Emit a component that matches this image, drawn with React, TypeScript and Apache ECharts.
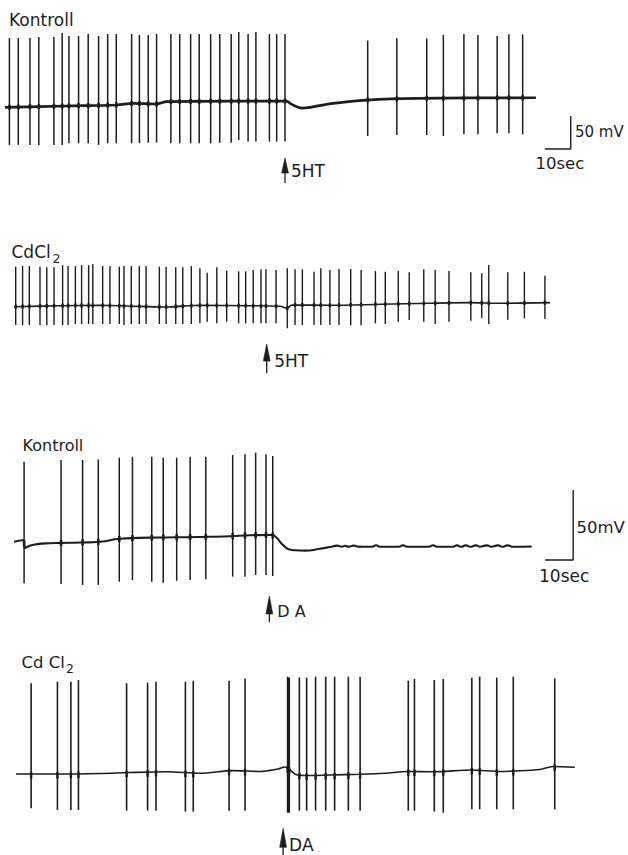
import React, { useEffect, useRef } from "react";
import * as echarts from "echarts";

const INK = "#1d1d1d";
const FONT = '"DejaVu Sans", "Liberation Sans", sans-serif';

// ---------- Trace 1: Kontroll, 5HT (time in s, potential in mV rel. to start) ----------
const kontroll5htSpikeTimes = [
  1.7, 5.1, 9.6, 13.0, 18.8, 22.0, 24.6, 28.3, 32.0, 36.0, 39.5, 42.8, 48.7, 51.7, 55.1,
  58.3, 63.8, 67.2, 71.4, 74.7, 79.1, 82.6, 87.0, 89.9, 93.5, 96.5, 101.7, 104.5, 107.7,
  139.5, 150.7, 162.2, 168.6, 176.5, 181.9, 189.3, 193.8, 199.1,
];
const kontroll5htSpikePeaks = [
  105, 105, 105, 106.5, 106.5, 112.6, 108, 108, 111, 108, 111, 111, 111, 109.5, 109.5,
  111, 111, 111, 111, 111, 111, 111, 111, 114, 111, 114, 111, 111, 111,
  101, 104.5, 104.5, 109.5, 111, 109.5, 108, 110.5, 110.5,
];
const kontroll5htSpikeTroughs = [
  -57, -57, -57, -57, -57, -57, -54.5, -54.5, -54.5, -57, -54.5, -54.5, -54.5, -54.5, -53.6,
  -53.6, -54.5, -54.5, -54.5, -54.5, -54.5, -53.6, -53.6, -49.5, -52, -52, -52, -52, -52,
  -43.5, -42, -42, -43.5, -41, -41, -39.5, -39.5, -41,
];
const kontroll5htBaseTimes = [0, 23.7, 43.0, 49.2, 58.3, 62.2, 87.7, 108.3, 109.6, 112.2, 114.5, 117.3, 126.2, 139.2, 158.5, 204.2];
const kontroll5htBaseValues = [0, 2, 3.5, 6, 5, 8.5, 9.5, 9.5, 6, 1, -1.2, 0, 6, 11, 13.6, 14.5];

// ---------- Trace 2: CdCl2, 5HT ----------
const cd5htSpikeTimes = [
  0.65, 3.3, 5.9, 10.0, 12.6, 15.4, 18.7, 20.8, 23.6, 26.0, 28.7, 30.3, 34.1, 36.9, 40.5,
  42.3, 45.1, 48.2, 50.8, 55.9, 58.5, 62.2, 64.9, 68.2, 71.5, 74.3, 78.0, 81.8, 86.4, 89.1,
  92.0, 95.0, 96.9, 100.8, 105.1, 108.1, 110.9, 115.4, 118.0, 121.5, 125.0, 129.5, 133.5,
  139.0, 142.8, 147.8, 152.0, 157.6, 162.0, 167.3, 175.7, 179.9, 182.6, 189.9, 196.3, 204.2,
];
const cd5htSpikePeaks = [
  60.6, 61.6, 61.6, 60.6, 59.6, 59.6, 63.1, 61.6, 61.6, 63.1, 63.1, 64.6, 61.6, 61.6, 60.6,
  61.6, 61.6, 61.6, 61.6, 60.6, 60.6, 59.6, 59.6, 61.6, 58.1, 51.5, 59.6, 54.5, 53.5, 53.5,
  55.6, 56.6, 56.6, 55.6, 58.1, 56.6, 56.6, 53.0, 58.1, 55.6, 57.1, 57.1, 55.6,
  54.0, 53.0, 54.5, 52.1, 56.6, 55.6, 54.0, 52.1, 50.6, 63.1, 52.1, 53.0, 47.0,
];
const cd5htSpikeTroughs = [
  -27.7, -27.7, -27.7, -27.7, -27.7, -27.7, -27.7, -27.7, -26.2, -26.2, -26.2, -26.2, -26.2, -26.2, -26.2,
  -27.7, -26.2, -26.2, -26.2, -26.2, -26.2, -26.2, -26.2, -26.2, -25.2, -22.7, -25.2, -22.7, -25.2, -25.2,
  -25.2, -25.2, -25.2, -25.2, -32.8, -27.7, -27.7, -27.7, -27.7, -27.7, -27.7, -28.2, -28.2,
  -25.2, -26.2, -22.7, -20.2, -22.7, -26.2, -22.7, -21.2, -17.6, -26.2, -19.7, -17.6, -18.7,
];
const cd5htBaseTimes = [0, 17.7, 33.1, 48.5, 58.1, 71.5, 90.8, 102.3, 105.0, 106.9, 121.5, 140.8, 160.0, 175.4, 186.9, 206.2];
const cd5htBaseValues = [0, 1.5, 2.1, 0.5, -0.5, 2.1, 1.5, 0.6, -2.4, 2.6, 2.1, 3.6, 5.2, 6.1, 5.2, 6.1];

// ---------- Trace 3: Kontroll, DA ----------
const kontrollDaSpikeTimes = [3.6, 16.8, 24.5, 30.1, 37.6, 42.3, 49.2, 53.3, 58.1, 62.9, 68.5, 78.1, 82.5, 86.3, 90.0, 92.4];
const kontrollDaSpikePeaks = [57.1, 58.4, 58.4, 58.8, 60.0, 60.7, 60.7, 60.0, 60.0, 60.7, 60.7, 61.9, 62.4, 63.6, 62.4, 61.2];
const kontrollDaSpikeTroughs = [-29.7, -30.2, -30.9, -30.9, -28.6, -27.4, -28.6, -29.3, -27.9, -27.4, -26.9, -25.0, -25.0, -23.8, -23.8, -24.5];
const kontrollDaBaseTimes = [
  0, 3.4, 3.9, 5.0, 7.5, 12.9, 16.8, 23.6, 30.7, 37.9, 48.6, 66.4, 77.1, 84.3, 92.1, 93.9, 96.1,
  99.3, 103.9, 109.3, 112.9, 115.4, 117.1, 118.2, 119.6, 121.4, 122.9, 127.9, 129.3, 130.7,
  137.5, 138.9, 140.4, 148.2, 149.6, 151.1, 156.8, 158.2, 159.6, 161.4, 162.9, 165.0, 166.4,
  168.9, 170.4, 172.9, 174.3, 176.4, 178.2, 184.9,
];
const kontrollDaBaseValues = [
  0, 1.2, -4.5, -3.4, -2.0, -1.1, -0.9, -0.6, 0, 2.1, 2.9, 3.4, 3.9, 4.6, 4.8, 2.6, -2.4,
  -5.9, -6.4, -5.0, -3.8, -2.8, -3.6, -2.9, -3.6, -2.8, -3.5, -3.6, -2.5, -3.6,
  -3.6, -2.5, -3.6, -3.6, -2.5, -3.6, -3.6, -2.6, -3.6, -2.6, -3.6, -2.6, -3.6,
  -2.6, -3.6, -2.6, -3.6, -2.6, -3.6, -3.4,
];

// ---------- Trace 4: CdCl2, DA ----------
const cdDaSpikeTimes = [
  5.4, 14.8, 19.6, 22.3, 39.5, 47.0, 50.0, 60.5, 63.3, 76.1, 81.8, 97.0, 97.3, 97.6, 101.2,
  103.8, 107.0, 110.6, 113.8, 118.7, 122.9, 140.1, 142.3, 149.4, 152.6, 162.8, 165.6, 171.7, 177.6, 192.4,
];
const cdDaSpikePeaks = [
  64.8, 65.9, 65.9, 67.1, 64.8, 65.2, 65.9, 65.9, 66.6, 66.6, 68.3, 69.5, 68.5, 69.0, 69.0,
  68.8, 69.5, 69.5, 69.5, 69.5, 69.5, 66.6, 67.9, 67.1, 67.9, 68.8, 69.5, 68.8, 69.5, 68.3,
];
const cdDaSpikeTroughs = [
  -24.5, -25.7, -25.7, -25.7, -26.2, -26.2, -26.2, -26.9, -26.9, -26.2, -26.2, -27.6, -27.6, -27.6, -26.2,
  -26.2, -26.2, -26.2, -26.2, -26.2, -26.2, -26.2, -26.2, -26.9, -27.6, -25.2, -25.2, -25.2, -25.2, -25.2,
];
const cdDaBaseTimes = [0, 15.7, 30.0, 40.7, 53.9, 65.7, 77.5, 87.1, 93.6, 96.1, 97.9, 100.0, 103.2, 112.1, 122.9, 131.8, 140.0, 148.9, 162.9, 172.9, 177.5, 187.1, 191.8, 199.6];
const cdDaBaseValues = [0, 0, 0.4, 1.1, 1.6, 0.5, 2.4, 1.8, 3.6, 5.0, 2.9, -0.4, -1.1, -0.7, -0.2, 0.5, 1.8, 1.6, 2.9, 1.8, 2.1, 3.2, 5.4, 4.8];

// Drug application times (s) and their labels
const eventTimes = [107.7, 97.2, 91.2, 95.4];
const eventLabels = ["5HT", "5HT", "D A", "DA"];

// Calibration bars
const scaleBarSeconds = 10;
const scaleBarMillivolts = 50;

type Frame = { originX: number; originY: number; pxPerSec: number; pxPerMV: number; xMax: number; yMin: number; yMax: number };

const traces = [
  {
    spikeTimes: kontroll5htSpikeTimes, peaks: kontroll5htSpikePeaks, troughs: kontroll5htSpikeTroughs,
    baseTimes: kontroll5htBaseTimes, baseValues: kontroll5htBaseValues,
    frame: { originX: 5, originY: 107.3, pxPerSec: 2.6, pxPerMV: 0.66, xMax: 220, yMin: -70, yMax: 120 } as Frame,
    look: { baseWidth: 2.7, spikeWidth: 1.5, blipUp: 2.5, blipDown: 2.5, blipWidth: 2.6, smooth: 0.3 },
    arrow: { tip: 4.5, head: 15, shaft: 29.5, textDx: 6, textDy: 17.5, fontSize: 17 },
  },
  {
    spikeTimes: cd5htSpikeTimes, peaks: cd5htSpikePeaks, troughs: cd5htSpikeTroughs,
    baseTimes: cd5htBaseTimes, baseValues: cd5htBaseValues,
    frame: { originX: 14, originY: 306.7, pxPerSec: 2.6, pxPerMV: 0.66, xMax: 210, yMin: -40, yMax: 70 } as Frame,
    look: { baseWidth: 1.6, spikeWidth: 1.4, blipUp: 2, blipDown: 2, blipWidth: 2.4, smooth: 0.3 },
    arrow: { tip: 11, head: 17, shaft: 40, textDx: 7.5, textDy: 27.5, fontSize: 17 },
  },
  {
    spikeTimes: kontrollDaSpikeTimes, peaks: kontrollDaSpikePeaks, troughs: kontrollDaSpikeTroughs,
    baseTimes: kontrollDaBaseTimes, baseValues: kontrollDaBaseValues,
    frame: { originX: 14, originY: 541.7, pxPerSec: 2.8, pxPerMV: 1.4, xMax: 200, yMin: -35, yMax: 70 } as Frame,
    look: { baseWidth: 2.1, spikeWidth: 1.5, blipUp: 3, blipDown: 3, blipWidth: 2.6, smooth: 0.6 },
    arrow: { tip: 5.3, head: 18, shaft: 31.5, textDx: 8, textDy: 21, fontSize: 16 },
  },
  {
    spikeTimes: cdDaSpikeTimes, peaks: cdDaSpikePeaks, troughs: cdDaSpikeTroughs,
    baseTimes: cdDaBaseTimes, baseValues: cdDaBaseValues,
    frame: { originX: 16, originY: 774, pxPerSec: 2.8, pxPerMV: 1.4, xMax: 205, yMin: -30, yMax: 75 } as Frame,
    look: { baseWidth: 1.6, spikeWidth: 1.6, blipUp: 2, blipDown: 4.5, blipWidth: 2.4, smooth: 0.3 },
    arrow: { tip: 12.3, head: 19, shaft: 40, textDx: 6, textDy: 29, fontSize: 17 },
  },
];

// Calibration bar corners, in the data units of the trace they belong to
const scaleBars = [
  { trace: 0, cornerTime: 217.6, cornerMV: -63.2 },
  { trace: 2, cornerTime: 199.7, cornerMV: -13.1 },
];

function baselineAt(times: number[], values: number[], t: number): number {
  if (t <= times[0]) return values[0];
  for (let i = 1; i < times.length; i++) {
    if (t <= times[i]) {
      const f = (t - times[i - 1]) / (times[i] - times[i - 1]);
      return values[i - 1] + f * (values[i] - values[i - 1]);
    }
  }
  return values[values.length - 1];
}

function buildOption() {
  const grid = traces.map((tr) => {
    const f = tr.frame;
    return {
      left: f.originX,
      top: f.originY - f.yMax * f.pxPerMV,
      width: f.xMax * f.pxPerSec,
      height: (f.yMax - f.yMin) * f.pxPerMV,
    };
  });
  const xAxis = traces.map((tr, i) => ({ type: "value", gridIndex: i, min: 0, max: tr.frame.xMax, show: false }));
  const yAxis = traces.map((tr, i) => ({ type: "value", gridIndex: i, min: tr.frame.yMin, max: tr.frame.yMax, show: false }));

  const series: any[] = [];
  traces.forEach((tr, i) => {
    const look = tr.look;
    // resting membrane potential trace
    series.push({
      type: "line",
      xAxisIndex: i,
      yAxisIndex: i,
      data: tr.baseTimes.map((t, j) => [t, tr.baseValues[j]]),
      symbol: "none",
      smooth: look.smooth,
      silent: true,
      lineStyle: { color: INK, width: look.baseWidth },
      z: 2,
    });
    // action potentials
    series.push({
      type: "custom",
      xAxisIndex: i,
      yAxisIndex: i,
      clip: false,
      silent: true,
      encode: { x: 0, y: 1 },
      data: tr.spikeTimes.map((t, j) => [t, tr.peaks[j], tr.troughs[j], baselineAt(tr.baseTimes, tr.baseValues, t)]),
      renderItem: (_p: any, api: any) => {
        const t = api.value(0);
        const top = api.coord([t, api.value(1)]);
        const bot = api.coord([t, api.value(2)]);
        const base = api.coord([t, api.value(3)]);
        return {
          type: "group",
          children: [
            {
              type: "line",
              shape: { x1: top[0], y1: top[1], x2: bot[0], y2: bot[1] },
              style: { stroke: INK, lineWidth: look.spikeWidth },
            },
            {
              type: "line",
              shape: { x1: base[0], y1: base[1] - look.blipUp, x2: base[0], y2: base[1] + look.blipDown },
              style: { stroke: INK, lineWidth: look.blipWidth },
            },
          ],
        };
      },
      z: 3,
    });
    // drug application arrow
    const ar = tr.arrow;
    series.push({
      type: "custom",
      xAxisIndex: i,
      yAxisIndex: i,
      clip: false,
      silent: true,
      encode: { x: 0, y: 1 },
      data: [[eventTimes[i], tr.frame.yMin]],
      renderItem: (_p: any, api: any) => {
        const p = api.coord([api.value(0), api.value(1)]);
        const x = p[0];
        const tipY = p[1] + ar.tip;
        return {
          type: "group",
          children: [
            {
              type: "line",
              shape: { x1: x, y1: tipY + 4, x2: x, y2: p[1] + ar.shaft },
              style: { stroke: INK, lineWidth: 1.3 },
            },
            {
              type: "polygon",
              shape: {
                points: [
                  [x, tipY],
                  [x + 3.4, tipY + ar.head],
                  [x - 3.4, tipY + ar.head],
                ],
              },
              style: { fill: INK, stroke: INK, lineWidth: 0.6 },
            },
            {
              type: "text",
              x: x + ar.textDx,
              y: p[1] + ar.textDy,
              style: {
                text: eventLabels[i],
                fill: INK,
                fontSize: ar.fontSize,
                fontFamily: FONT,
                align: "left",
                verticalAlign: "middle",
              },
            },
          ],
        };
      },
      z: 4,
    });
  });

  scaleBars.forEach((sb) => {
    series.push({
      type: "line",
      xAxisIndex: sb.trace,
      yAxisIndex: sb.trace,
      clip: false,
      silent: true,
      symbol: "none",
      data: [
        [sb.cornerTime - scaleBarSeconds, sb.cornerMV],
        [sb.cornerTime, sb.cornerMV],
        [sb.cornerTime, sb.cornerMV + scaleBarMillivolts],
      ],
      lineStyle: { color: INK, width: 1.4 },
    });
  });

  const label = (text: string, x: number, y: number, fontSize: number) => ({
    type: "text",
    x,
    y,
    silent: true,
    style: { text, fill: INK, fontSize, fontFamily: FONT, align: "left", verticalAlign: "middle" },
  });

  const graphic = [
    label("Kontroll", 9, 20, 17),
    label("CdCl", 11.5, 251.5, 17),
    label("2", 52.5, 258.5, 12.5),
    label("Kontroll", 22.5, 445, 16),
    label("Cd Cl", 21.5, 662, 16.5),
    label("2", 66, 668, 12.5),
    label("50 mV", 575, 132, 15),
    label("10sec", 535.5, 163.5, 16.5),
    label("50mV", 576.5, 527.5, 16.5),
    label("10sec", 539, 576, 17),
  ];

  return {
    animation: false,
    backgroundColor: "#ffffff",
    grid,
    xAxis,
    yAxis,
    series,
    graphic,
  };
}

export default function App() {
  const ref = useRef<HTMLDivElement>(null);
  useEffect(() => {
    if (!ref.current) return;
    const chart = echarts.init(ref.current, undefined, { renderer: "svg" });
    chart.setOption(buildOption() as any);
    return () => chart.dispose();
  }, []);
  return <div ref={ref} style={{ position: "absolute", left: 0, top: 0, width: 628, height: 855 }} />;
}
